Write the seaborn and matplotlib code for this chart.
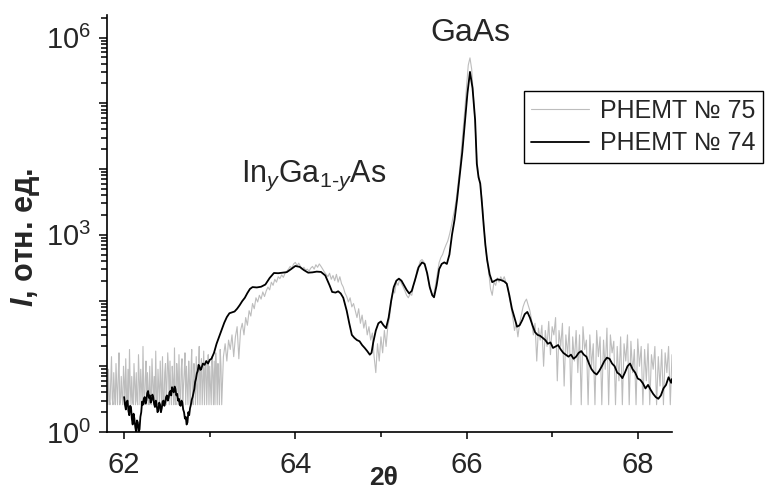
import matplotlib
matplotlib.use("Agg")
import matplotlib.pyplot as plt
import matplotlib.ticker as mticker
import numpy as np
import pandas as pd
import seaborn as sns

# --- data ---
# sample PHEMT № 74 (black): noisy start at 0.01 step, then hand-read points
y74_start = [3.4, 2.6, 2.2, 2.9, 3.0, 2.1, 1.8, 2.5, 2.4, 1.6,
             1.3, 1.9, 1.6, 1.2, 1.0, 1.5, 1.4, 1.0, 1.1, 1.7,
             2.0, 2.9, 2.6, 3.2, 3.4, 2.7, 3.0, 3.9, 4.2, 3.3,
             3.6, 2.8, 3.0, 3.7, 3.4, 2.7, 2.4, 3.0, 2.6, 2.0,
             2.1, 2.8, 2.6, 2.0, 2.3, 2.9, 3.0, 2.5, 2.8, 3.4,
             3.6, 3.0, 3.3, 4.0, 4.2, 3.6, 4.8, 4.3, 4.0, 4.9,
             4.5, 3.6, 3.8, 3.0, 3.2, 2.6, 2.5, 3.0, 2.8, 2.2,
             2.0, 1.6, 1.7, 1.3, 1.4, 2.0, 1.8, 2.3, 2.6, 3.1,
             3.4, 3.9, 4.5, 5.8, 6.5, 7.8, 8.5, 10.5, 10, 8.8,
             9.0]
x74_rest = [62.92, 62.94, 62.96, 62.98,
            63.00, 63.02, 63.05, 63.08, 63.11, 63.14, 63.17, 63.20, 63.23, 63.26,
            63.29, 63.32, 63.35, 63.38, 63.41, 63.44, 63.47, 63.50, 63.55, 63.60,
            63.65, 63.70, 63.75, 63.80, 63.85, 63.90, 63.95, 64.00, 64.05, 64.10,
            64.15, 64.20, 64.25, 64.30, 64.35, 64.40, 64.43, 64.47, 64.50, 64.53,
            64.56, 64.60, 64.63, 64.66, 64.69, 64.72, 64.75, 64.78, 64.81, 64.84,
            64.87, 64.89, 64.91, 64.94, 64.97, 65.00, 65.03, 65.06, 65.09, 65.12,
            65.15, 65.18, 65.21, 65.24, 65.27, 65.30, 65.33, 65.36, 65.40, 65.44,
            65.48, 65.51, 65.54, 65.57, 65.60, 65.62, 65.65, 65.68, 65.71, 65.74,
            65.77, 65.80, 65.83, 65.86, 65.89, 65.92, 65.95, 65.98, 66.01, 66.04,
            66.07, 66.10, 66.12, 66.14, 66.16, 66.18, 66.20, 66.22, 66.24, 66.27,
            66.30, 66.33, 66.36, 66.40, 66.44, 66.47, 66.50, 66.53, 66.56, 66.59,
            66.62, 66.65, 66.68, 66.71, 66.74, 66.77, 66.80, 66.83, 66.86, 66.89,
            66.92, 66.95, 66.98, 67.01, 67.04, 67.07, 67.10, 67.13, 67.16, 67.19,
            67.22, 67.25, 67.28, 67.31, 67.34, 67.37, 67.40, 67.43, 67.46, 67.49,
            67.52, 67.55, 67.58, 67.61, 67.64, 67.67, 67.70, 67.73, 67.76, 67.79,
            67.82, 67.85, 67.88, 67.91, 67.94, 67.97, 68.00, 68.03, 68.06, 68.09,
            68.12, 68.15, 68.18, 68.21, 68.24, 68.27, 68.30, 68.33, 68.36, 68.39,
            68.40]
y74_rest = [11, 10.5, 12, 11,
            12.5, 13, 16, 22, 28, 36, 46, 56, 64, 66,
            68, 75, 85, 98, 110, 130, 150, 160, 158, 162,
            175, 220, 262, 260, 265, 270, 300, 335, 325, 290,
            265, 268, 275, 272, 240, 170, 135, 132, 138, 128,
            110, 70, 45, 30, 27, 25, 24, 21, 19, 17,
            15, 16, 23, 35, 45, 48, 42, 38, 55, 100,
            160, 200, 215, 200, 170, 145, 128, 140, 210, 320,
            380, 360, 260, 160, 120, 112, 170, 300, 360, 380,
            360, 500, 1000, 1700, 3500, 8000, 18000, 50000, 140000, 300000,
            170000, 56000, 12000, 7500, 6000, 3000, 1400, 700, 420, 250,
            190, 200, 210, 205, 195, 180, 120, 75, 55, 40,
            42, 50, 62, 67, 55, 42, 33, 30, 29, 27,
            25, 22, 23, 19, 20, 21, 18, 16, 15, 14,
            15, 13, 14, 16, 17, 15, 14, 11, 9, 8,
            7.5, 8.5, 10, 12, 13.5, 13, 11, 10, 8, 7.5,
            6.6, 8, 10, 11, 9, 8, 6.5, 6.2, 5.5, 4.6,
            5.2, 4.4, 3.8, 3.4, 3.2, 3.6, 4.6, 5.2, 6.8, 5.6,
            6.4]

# sample PHEMT № 75 (grey), four stretches with a constant step
y75_low = [4.5, 2.6, 9, 3, 2.6, 6, 14, 3.2, 2.6, 8, 4, 2.6, 11, 5, 2.6, 7, 16, 2.6,
           3, 7, 3.5, 2.6, 10, 6, 2.6, 13, 4, 2.6, 9, 2.6, 18, 5, 2.6, 7, 3, 2.6,
           11, 5.5, 2.6, 8, 3, 2.6, 15, 6, 2.6, 9, 5, 2.6, 20, 4, 2.6, 6.5, 12, 2.6,
           8, 4, 2.6, 10, 3.5, 2.6, 13, 6, 2.6, 7, 2.6, 17, 3.5, 2.6, 9, 5, 2.6, 12,
           5, 2.6, 14, 3, 2.6, 8, 11, 2.6, 6, 16, 9, 2.6, 12, 4, 2.6, 10, 6, 2.6,
           19, 3, 2.6, 11, 7, 2.6, 15, 4, 2.6, 9, 13, 2.6, 5, 8, 16, 2.6, 10, 5,
           2.6, 12, 6, 2.6, 9, 18, 3, 2.6, 11, 7, 2.6, 14, 5, 2.6, 10, 20, 2.6, 8,
           13, 2.6, 6, 17, 2.6, 9, 12, 2.6, 7, 15, 2.6, 10, 5, 2.6, 14, 8, 2.6, 12,
           2.6, 16, 9, 2.6, 11, 6, 2.6, 18, 10, 2.6]
y75_rise = [14, 22, 12, 25, 18, 30, 14, 28, 40, 13, 35, 45, 30, 55, 42, 70,
            58, 90, 75, 110, 95, 120, 105, 135, 115, 140, 160, 145, 190, 170,
            210, 190, 230, 215, 245, 225, 260, 280, 300, 330, 310, 360, 380,
            340, 370, 330, 300, 320, 290, 300, 280, 310, 330, 300, 350, 320,
            360, 330, 300, 270, 250, 230, 260, 210, 240, 200, 250, 190, 230,
            180, 160, 130, 115, 95, 110, 80, 90, 70, 55, 75, 45, 60, 38, 50,
            30, 40, 25, 32, 14, 8, 22, 12, 28, 16, 35, 20, 40, 55]
y75_peak = [90, 150, 130, 190, 170, 210, 180, 160, 140, 120, 110, 125, 120,
            170, 200, 290, 330, 400, 420, 390, 340, 250, 180, 140, 120, 130,
            180, 260, 380, 450, 500, 600, 700, 800, 1000, 1300, 1800, 2400,
            3500, 6000, 10000, 20000, 40000, 80000, 180000, 380000, 490000,
            330000, 130000, 50000, 14000, 8000, 6000, 3500, 1500, 700, 400,
            260, 150, 120, 190, 170, 220, 190, 230, 200, 230, 190, 160, 110,
            80, 55, 35, 45, 28]
y75_tail = [45, 60, 80, 95, 105, 85, 70, 50, 30, 45, 12, 38, 25, 42, 10, 35,
            20, 48, 15, 40, 30, 55, 6, 35, 20, 45, 5, 30, 15, 40, 2.6, 28, 12,
            35, 8, 30, 2.6, 40, 18, 25, 2.6, 30, 10, 22, 2.6, 35, 14, 28, 2.6,
            25, 9, 38, 2.6, 30, 16, 24, 2.6, 20, 6, 28, 2.6, 22, 12, 30, 2.6,
            24, 8, 18, 2.6, 26, 10, 20, 2.6, 18, 6, 22, 2.6, 15, 9, 20, 2.6,
            14, 5, 18, 2.6, 16, 8, 20, 2.6, 15]

x_ticks = [62, 63, 64, 65, 66, 67, 68]
y_ticks = [m * 10.0 ** k for k in range(7) for m in range(1, 10)]

x74 = np.concatenate([np.linspace(62.00, 62.90, len(y74_start)), x74_rest])
y74 = y74_start + y74_rest
x75 = np.concatenate([
    np.linspace(61.80, 63.14, len(y75_low)),
    np.linspace(63.16, 65.10, len(y75_rise)),
    np.linspace(65.12, 66.60, len(y75_peak)),
    np.linspace(66.62, 68.40, len(y75_tail)),
])
y75 = y75_low + y75_rise + y75_peak + y75_tail

d74 = pd.DataFrame({"2theta": x74, "I": y74})
d75 = pd.DataFrame({"2theta": x75, "I": y75})

sns.set_theme(style="ticks")
plt.rcParams["font.family"] = ["Liberation Sans", "DejaVu Sans"]
plt.rcParams["mathtext.fontset"] = "custom"
plt.rcParams["mathtext.rm"] = "Liberation Sans"
plt.rcParams["mathtext.it"] = "Liberation Sans:italic"
plt.rcParams["mathtext.bf"] = "Liberation Sans:bold"
plt.rcParams["mathtext.bfit"] = "Liberation Sans:italic:bold"

fig = plt.figure(figsize=(7.66, 4.91), dpi=100)
ax = fig.add_axes([107 / 766, 1 - 432 / 491, 565 / 766, 417 / 491])

sns.lineplot(data=d75, x="2theta", y="I", color="#bdbdbd", lw=0.8,
             estimator=None, sort=False, label="PHEMT № 75", ax=ax)
sns.lineplot(data=d74, x="2theta", y="I", color="black", lw=1.3,
             estimator=None, sort=False, label="PHEMT № 74", ax=ax)

ax.set_yscale("log")
ax.set_ylim(1, 2.2e6)
ax.set_xlim(61.8, 68.4)


def is_decade(v):
    return abs(np.log10(v) - round(np.log10(v))) < 1e-9


# all ticks as major ticks, the in-between ones shortened below
ax.yaxis.set_major_locator(mticker.FixedLocator(y_ticks))
ax.yaxis.set_minor_locator(mticker.NullLocator())
ax.yaxis.set_major_formatter(mticker.FuncFormatter(
    lambda v, p: r"$\mathregular{10^{%d}}$" % round(np.log10(v))
    if is_decade(v) and round(np.log10(v)) % 3 == 0 else ""))
ax.xaxis.set_major_locator(mticker.FixedLocator(x_ticks))
ax.xaxis.set_minor_locator(mticker.NullLocator())
ax.xaxis.set_major_formatter(mticker.FuncFormatter(
    lambda v, p: "%d" % v if round(v) % 2 == 0 else ""))

ax.tick_params(axis="y", which="major", direction="out", length=5.5, width=1.1,
               labelsize=21, color="black", pad=6)
ax.tick_params(axis="x", which="major", direction="out", length=5, width=1.1,
               labelsize=21, color="black", pad=9)

for s in ["top", "right"]:
    ax.spines[s].set_visible(False)
for s in ["left", "bottom"]:
    ax.spines[s].set_linewidth(1.2)
    ax.spines[s].set_color("black")

ax.set_xlabel("2θ", fontsize=19, fontweight="bold", va="top")
ax.xaxis.set_label_coords(0.49, -(466 - 432) / 417)
ax.set_ylabel(r"$\mathbfit{I}$, отн. ед.", fontsize=22, fontweight="bold", va="center")
ax.yaxis.set_label_coords(-(107 - 25) / 565, (432 - 237) / 417)

ax.text(66.04, 10 ** 6.07, "GaAs", fontsize=23, ha="center", va="center")
ax.text(63.36, 10 ** 3.80, r"In$_{y}$Ga$_{1\text{-}y}$As", fontsize=22,
        ha="left", va="baseline")

leg = ax.legend(loc="upper right", bbox_to_anchor=(763 / 766, 1 - 91 / 491),
                bbox_transform=fig.transFigure, fontsize=18, frameon=True,
                fancybox=False, framealpha=1, edgecolor="black",
                handlelength=2.3, handletextpad=0.45, labelspacing=0.35,
                borderpad=0.3, borderaxespad=0)
leg.get_frame().set_linewidth(1.0)

# shorten the in-between ticks
fig.canvas.draw()
for tick, v in zip(ax.yaxis.get_major_ticks(), ax.yaxis.get_majorticklocs()):
    if not is_decade(v):
        tick.tick1line.set_markersize(4)
for tick, v in zip(ax.xaxis.get_major_ticks(), ax.xaxis.get_majorticklocs()):
    if round(v) % 2 == 1:
        tick.tick1line.set_markersize(3.5)

fig.savefig("out.png", dpi=100)
